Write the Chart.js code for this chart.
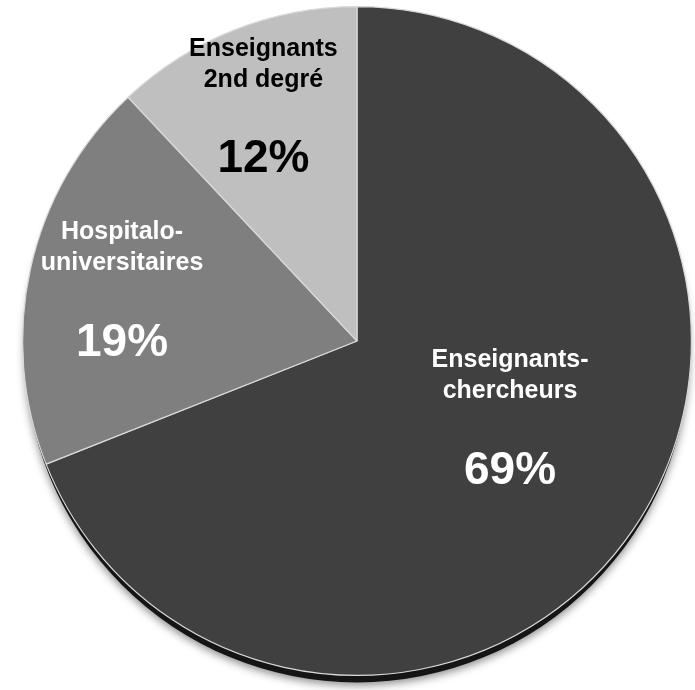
<!DOCTYPE html>
<html>
<head>
<meta charset="utf-8">
<script src="https://cdn.jsdelivr.net/npm/chart.js@4.4.0/dist/chart.umd.min.js"></script>
<style>
  html, body { margin: 0; padding: 0; background: #ffffff; }
  #wrap { width: 695px; height: 690px; }
</style>
</head>
<body>
<div id="wrap"><canvas id="myPieChart" width="695" height="690"></canvas></div>
<script>
"use strict";

// data
var categories = [["Enseignants-", "chercheurs"], ["Hospitalo-", "universitaires"], ["Enseignants", "2nd degré"]];
var values = [69, 19, 12];
var percentLabels = ["69%", "19%", "12%"];

// look of each slice
var sliceColors = ["#404040", "#7f7f7f", "#bfbfbf"];
var textColors = ["#ffffff", "#ffffff", "#000000"];
// where each label sits: fraction of radius, angle shift (deg)
var labelPlace = [[0.51, -8], [0.72, 0], [0.76, 0]];

// dark rim under the pie, like the original's 3D look
var shadowPlugin = {
    id: 'pieShadow',
    beforeDatasetsDraw: function (chart) {
        var arc = chart.getDatasetMeta(0).data[0];
        if (!arc) return;
        var ctx = chart.ctx;
        ctx.save();
        ctx.shadowColor = 'rgba(0,0,0,0.45)';
        ctx.shadowBlur = 8;
        ctx.shadowOffsetY = 3;
        ctx.beginPath();
        ctx.arc(arc.x, arc.y + 9, arc.outerRadius - 2, 0, Math.PI * 2);
        ctx.fillStyle = '#151515';
        ctx.fill();
        ctx.restore();
    }
};

var labelPlugin = {
    id: 'sliceLabels',
    afterDatasetsDraw: function (chart) {
        var ctx = chart.ctx;
        var meta = chart.getDatasetMeta(0);
        meta.data.forEach(function (arc, i) {
            var mid = (arc.startAngle + arc.endAngle) / 2 + labelPlace[i][1] * Math.PI / 180;
            var r = arc.outerRadius * labelPlace[i][0];
            var cx = arc.x + Math.cos(mid) * r;
            var cy = arc.y + Math.sin(mid) * r;
            ctx.save();
            ctx.fillStyle = textColors[i];
            ctx.textAlign = 'center';
            ctx.textBaseline = 'middle';
            ctx.font = 'bold 25px "Liberation Sans", Arial, sans-serif';
            ctx.fillText(categories[i][0], cx, cy - 56);
            ctx.fillText(categories[i][1], cx, cy - 25);
            ctx.font = 'bold 46px "Liberation Sans", Arial, sans-serif';
            ctx.fillText(percentLabels[i], cx, cy + 55);
            ctx.restore();
        });
    }
};

var ctxPie = document.getElementById('myPieChart').getContext('2d');
var myPieChart = new Chart(ctxPie, {
    type: 'pie',
    data: {
        labels: categories.map(function (c) { return c.join(' '); }),
        datasets: [{
            data: values,
            backgroundColor: sliceColors,
            borderColor: '#d9d9d9',
            borderWidth: 1.2
        }]
    },
    options: {
        responsive: false,
        animation: false,
        layout: { padding: { left: 22, right: 3, top: 6, bottom: 14 } },
        plugins: {
            legend: { display: false },
            tooltip: { enabled: false }
        }
    },
    plugins: [shadowPlugin, labelPlugin]
});
</script>
</body>
</html>
